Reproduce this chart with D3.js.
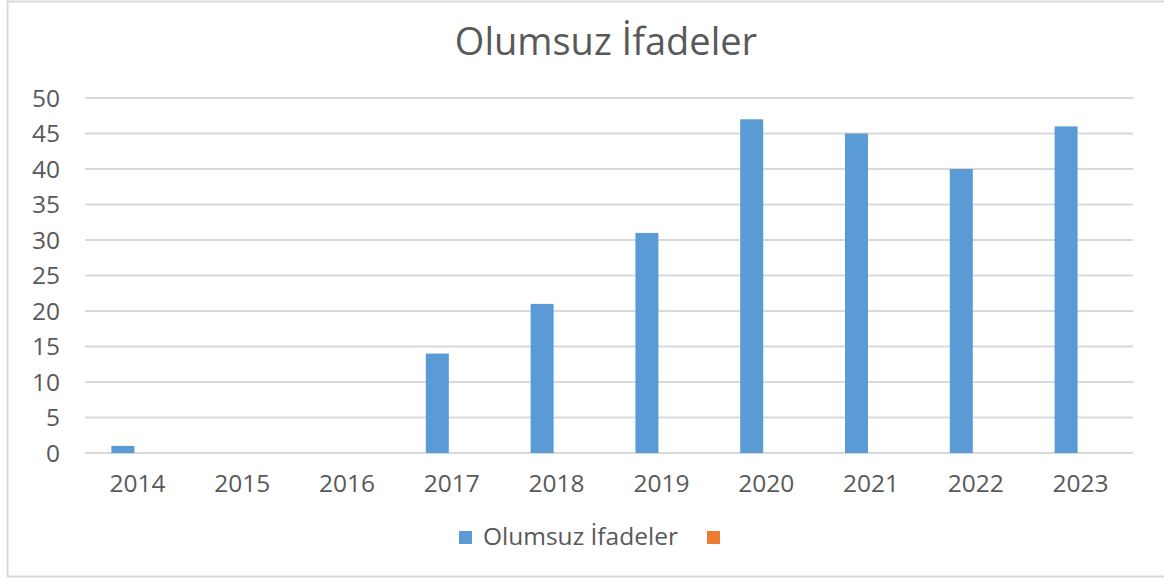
<!DOCTYPE html>
<html>
<head>
<meta charset="utf-8">
<script src="https://cdn.jsdelivr.net/npm/d3@7"></script>
<style>
    body { margin: 0; background: #fff; }
    svg text { font-family: "Open Sans", sans-serif; fill: #595959; }
</style>
</head>
<body>
<div id="chart"></div>
<script>
// chart data
var years = ["2014", "2015", "2016", "2017", "2018", "2019", "2020", "2021", "2022", "2023"];
var olumsuz = [1, 0, 0, 14, 21, 31, 47, 45, 40, 46];
var empty = [0, 0, 0, 0, 0, 0, 0, 0, 0, 0];   // second series, has no values
var yTicks = [0, 5, 10, 15, 20, 25, 30, 35, 40, 45, 50];
var seriesNames = ["Olumsuz İfadeler", ""];
var colors = ["#5b9bd5", "#ed7d31"];

var W = 1164, H = 581;
var margin = {top: 98, right: 31, bottom: 128, left: 85};

var svg = d3.select("#chart").append("svg")
    .attr("width", W)
    .attr("height", H);

// outer border
svg.append("rect")
    .attr("x", 7.5).attr("y", 1.5)
    .attr("width", W).attr("height", 575)
    .attr("fill", "#fff")
    .attr("stroke", "#d9d9d9")
    .attr("stroke-width", 2);

var width = W - margin.left - margin.right,
    height = H - margin.top - margin.bottom;

var g = svg.append("g").attr("transform", "translate(" + margin.left + "," + margin.top + ")");

var x = d3.scaleBand().domain(years).range([0, width]);
var y = d3.scaleLinear().domain([0, 50]).range([height, 0]);
var barW = 23;

// gridlines
g.selectAll(".grid")
    .data(yTicks)
    .enter().append("line")
    .attr("class", "grid")
    .attr("x1", 0).attr("x2", width)
    .attr("y1", function (d) { return y(d); })
    .attr("y2", function (d) { return y(d); })
    .attr("stroke", "#d9d9d9")
    .attr("stroke-width", 2);

// y labels
g.selectAll(".ylab")
    .data(yTicks)
    .enter().append("text")
    .attr("x", -25)
    .attr("y", function (d) { return y(d); })
    .attr("dy", "0.36em")
    .attr("text-anchor", "end")
    .style("font-size", "24.5px")
    .text(function (d) { return d; });

// x labels
g.selectAll(".xlab")
    .data(years)
    .enter().append("text")
    .attr("x", function (d) { return x(d) + x.bandwidth() / 2; })
    .attr("y", height + 39)
    .attr("text-anchor", "middle")
    .style("font-size", "24.5px")
    .text(function (d) { return d; });

// bars, blue series sits left of category centre (orange series is all zero)
g.selectAll(".bar")
    .data(years.map(function (d, i) { return {year: d, v: olumsuz[i]}; }))
    .enter().append("rect")
    .attr("class", "bar")
    .attr("x", function (d) { return x(d.year) + x.bandwidth() / 2 - barW - 3; })
    .attr("y", function (d) { return y(d.v); })
    .attr("width", barW)
    .attr("height", function (d) { return height - y(d.v); })
    .attr("fill", colors[0]);

g.selectAll(".bar2")
    .data(years.map(function (d, i) { return {year: d, v: empty[i]}; }))
    .enter().append("rect")
    .attr("class", "bar2")
    .attr("x", function (d) { return x(d.year) + x.bandwidth() / 2 - 3; })
    .attr("y", function (d) { return y(d.v); })
    .attr("width", barW)
    .attr("height", function (d) { return height - y(d.v); })
    .attr("fill", colors[1]);

// title
svg.append("text")
    .attr("x", 606)
    .attr("y", 55)
    .attr("text-anchor", "middle")
    .style("font-size", "38px")
    .text("Olumsuz İfadeler");

// legend
var legend = svg.append("g");
legend.append("rect").attr("x", 459).attr("y", 531).attr("width", 13).attr("height", 13).attr("fill", colors[0]);
legend.append("text").attr("x", 483).attr("y", 545)
    .style("font-size", "24.5px").text(seriesNames[0]);
legend.append("rect").attr("x", 707).attr("y", 531).attr("width", 13).attr("height", 13).attr("fill", colors[1]);
</script>
</body>
</html>
